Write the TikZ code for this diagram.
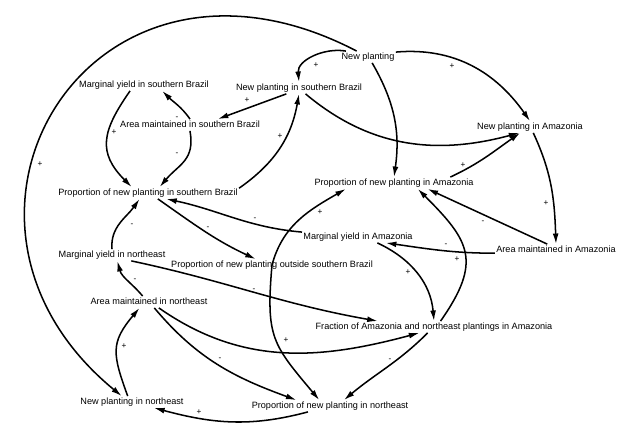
\documentclass[tikz,border=0pt]{standalone}
\usepackage{fontspec}
\setmainfont{Liberation Sans}
\usetikzlibrary{arrows.meta}

\begin{document}
\begin{tikzpicture}[x=0.03cm, y=0.03cm,
        every node/.style={font=\fontsize{7.8}{9}\selectfont, inner sep=1pt, text height=6pt, text depth=1.7pt},
        sgn/.style={font=\fontsize{7}{8}\selectfont, inner sep=0pt, text height=4pt, text depth=0pt},
        link/.style={-{Latex[length=9pt,width=5pt]}, line width=1.3pt}]
        \useasboundingbox (0,0) rectangle (637,429);
        \node (NP) at (368,372) {New planting};
        \node (NPS) at (299,341) {New planting in southern Brazil}; \node (MYS) at (144,344) {Marginal yield in southern Brazil};
        \node (AMS) at (190,304) {Area maintained in southern Brazil}; \node (PS) at (148,236) {Proportion of new planting in southern Brazil};
        \node (NPA) at (530,302) {New planting in Amazonia}; \node (PA) at (394,246) {Proportion of new planting in Amazonia};
        \node (MYA) at (358,192) {Marginal yield in Amazonia}; \node (AMA) at (556,179) {Area maintained in Amazonia};
        \node (MYN) at (112,174) {Marginal yield in northeast}; \node (PO) at (272,164) {Proportion of new planting outside southern Brazil};
        \node (AMN) at (149,127) {Area maintained in northeast}; \node (FA) at (434,102) {Fraction of Amazonia and northeast plantings in Amazonia};
        \node (NPN) at (132,27) {New planting in northeast}; \node (PN) at (330,23) {Proportion of new planting in northeast};
        \draw[link] (NP) .. controls (90,517) and (-94,210) .. (NPN.150);
        \draw[link] (NP.165) to[out=170, in=95] (NPS.north);
        \draw[link] (NP.10) to[out=5, in=125] (NPA.north);
        \draw[link] (NP.-55) to[out=-60, in=82] (PA.north);
        \draw[link] (NPS.-155) -- (AMS.12);
        \draw[link] (NPS.-42) to[out=-40, in=195] (NPA.-151);
        \draw[link] (AMS.north) to[out=125, in=-45] (MYS.-18);
        \draw[link] (MYS.-157) to[out=-125, in=135, looseness=1.3] (PS.160);
        \draw[link] (AMS.south) to[out=-80, in=50, looseness=1.2] (PS.27);
        \draw[link] (PS.3) to[out=35, in=-100] (NPS.south);
        \draw[link] (PS.-31) to[out=-35, in=155] (PO.160);
        \draw[link] (MYA.175) to[out=175, in=-12] (PS.-18);
        \draw[link] (MYN.north) to[out=95, in=-125] (PS.-145);
        \draw[link] (AMN.137) to[out=130, in=-75] (MYN.-48);
        \draw[link] (MYN.-17) to[out=-12, in=170] (FA.174);
        \draw[link] (NPN.126) to[out=110, in=-130, looseness=1.3] (AMN.-148);
        \draw[link] (AMN.-31) to[out=-35, in=-165] (FA.-158);
        \draw[link] (AMN.-48) to[out=-50, in=160] (PN.170);
        \draw[link] (PN.-165) to[out=-165, in=-15] (NPN.-15);
        \draw[link] (FA.-137) to[out=-135, in=40] (PN.23);
        \draw[link] (FA.42) to[out=55, in=-45, looseness=1.4] (PA.-14);
        \draw[link] (AMA.146) -- (PA.-10);
        \draw[link] (AMA.-177) to[out=180, in=-8] (MYA.-12);
        \draw[link] (MYA.-17) to[out=-25, in=95] (FA.north);
        \draw[link] (NPA.-61) to[out=-65, in=92] (AMA.north);
        \draw[link] (PA.6) to[out=25, in=-145] (NPA.-149);
        \draw[link] (PO.center) to[out=75, in=-150] (PA.-173);
        \draw[link] (PO.center) to[out=-95, in=130, looseness=1.3] (PN.151);
        \node[sgn] (s1) at (40,265) {+}; \node[sgn] (s2) at (316,364) {+}; \node[sgn] (s3) at (452,363) {+};
        \node[sgn] (s4) at (247,329) {+}; \node[sgn] (s5) at (177,312) {-}; \node[sgn] (s6) at (114,297) {+};
        \node[sgn] (s7) at (177,276) {-}; \node[sgn] (s8) at (280,293) {+}; \node[sgn] (s9) at (208,202) {-};
        \node[sgn] (s10) at (255,211) {-}; \node[sgn] (s11) at (132,205) {-}; \node[sgn] (s12) at (135,150) {-};
        \node[sgn] (s13) at (254,140) {-}; \node[sgn] (s14) at (124,83) {+}; \node[sgn] (s15) at (220,71) {-};
        \node[sgn] (s16) at (199,17) {+}; \node[sgn] (s17) at (390,70) {-}; \node[sgn] (s18) at (457,170) {+};
        \node[sgn] (s19) at (483,208) {-}; \node[sgn] (s20) at (446,185) {-}; \node[sgn] (s21) at (408,157) {+};
        \node[sgn] (s22) at (546,226) {+}; \node[sgn] (s23) at (463,264) {+}; \node[sgn] (s24) at (320,217) {+};
        \node[sgn] (s25) at (286,89) {+};
    \end{tikzpicture}
\end{document}
